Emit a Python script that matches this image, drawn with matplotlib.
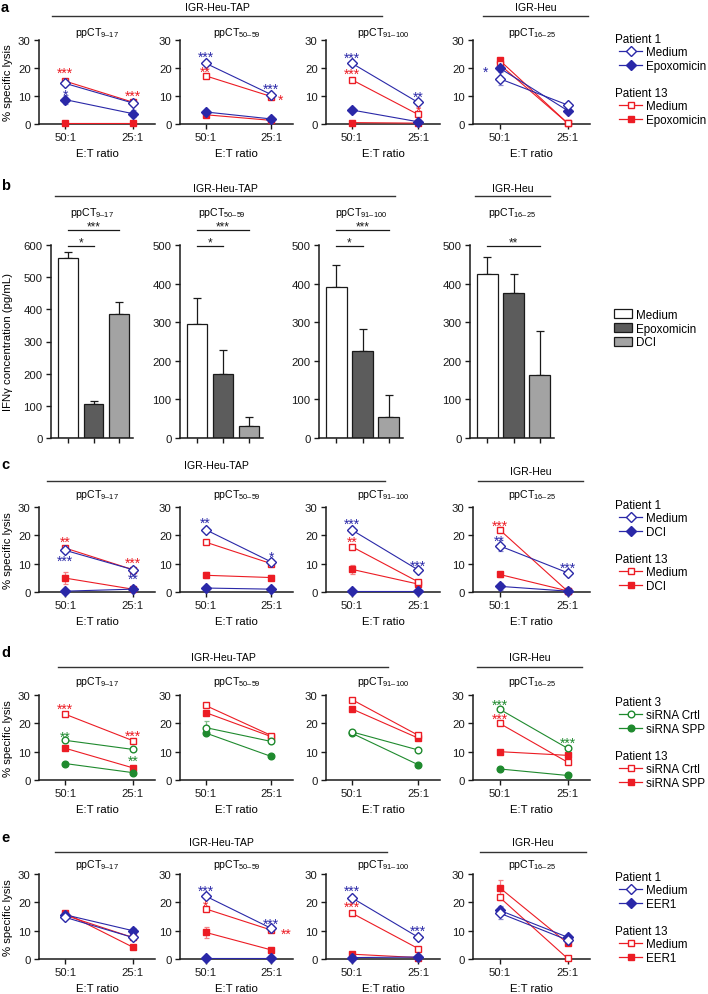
import matplotlib
matplotlib.use("Agg")
import matplotlib.pyplot as plt
from matplotlib.lines import Line2D
from matplotlib.patches import Patch
from matplotlib.transforms import offset_copy
import numpy as np

plt.rcParams['font.family'] = ['Liberation Sans', 'DejaVu Sans']
plt.rcParams['mathtext.fontset'] = 'custom'
plt.rcParams['mathtext.rm'] = 'Liberation Sans'
plt.rcParams['mathtext.it'] = 'Liberation Sans:italic'
plt.rcParams['mathtext.bf'] = 'Liberation Sans:bold'

BLUE = '#2a28a8'
RED = '#ec1c24'
GREEN = '#1f8a2e'
FS = 7.6      # titles
FT = 8.2      # ticks / axis labels
FL = 8.4      # legends

# ---- data -------------------------------------------------------------
ratios = ['50:1', '25:1']
peptides = ['9\u201317', '50\u201359', '91\u2013100', '16\u201325']
cell_lines = ['IGR-Heu-TAP', 'IGR-Heu']

# panel a: Patient 1 (blue) / Patient 13 (red), Medium vs Epoxomicin
a_p1_medium = [[14.5, 7.5], [21.7, 10.5], [21.7, 7.7], [16.2, 6.8]]
a_p1_drug = [[8.7, 3.7], [4.3, 1.8], [5.0, 0.8], [20.0, 4.8]]
a_p13_medium = [[15.3, 7.8], [17.2, 9.8], [15.8, 3.4], [21.3, 0.3]]
a_p13_drug = [[0.3, 0.3], [3.3, 1.3], [0.5, 0.3], [22.8, 0.3]]
a_p1_medium_err = [[0.6, 0.5], [0.6, 0.5], [0.5, 0.6], [2.2, 0.6]]
a_p1_drug_err = [[1.5, 1.3], [0.5, 0.4], [0.6, 0.3], [1.0, 0.5]]
a_p13_medium_err = [[0.6, 0.5], [0.8, 0.5], [0.8, 0.8], [0.8, 0.2]]
a_p13_drug_err = [[0.2, 0.2], [0.4, 0.3], [0.3, 0.2], [0.8, 0.2]]
a_stars = [(0, 0, 19.5, '***', RED), (0, 0, 11.6, '*', BLUE), (0, 1, 11.3, '***', RED),
           (1, 0, 25.3, '***', BLUE), (1, 0, 19.8, '**', RED), (1, 1, 13.8, '***', BLUE),
           (1, 1.14, 9.8, '*', RED),
           (2, 0, 24.8, '***', BLUE), (2, 0, 19.2, '***', RED), (2, 1, 10.8, '**', BLUE),
           (2, 1, 6.0, '*', RED),
           (3, -0.2, 20.0, '*', BLUE)]

# panel b: IFNg release
b_medium = [560, 296, 390, 425]
b_epox = [107, 167, 225, 375]
b_dci = [385, 30, 55, 162]
b_medium_err = [18, 67, 57, 45]
b_epox_err = [8, 62, 58, 50]
b_dci_err = [37, 25, 57, 115]
b_ymax = [600, 500, 500, 500]
b_sig = [[(0, 2, '***', 'high'), (0, 1, '*', 'low')],
         [(0, 2, '***', 'high'), (0, 1, '*', 'low')],
         [(0, 2, '***', 'high'), (0, 1, '*', 'low')],
         [(0, 2, '**', 'low')]]

# panel c: Medium vs DCI
c_p1_medium = [[14.7, 7.9], [22.0, 10.6], [21.9, 7.8], [16.3, 6.8]]
c_p1_drug = [[0.3, 1.0], [1.4, 1.0], [0.2, 0.2], [2.0, 0.3]]
c_p13_medium = [[15.5, 7.9], [17.6, 10.0], [16.0, 3.6], [22.0, 0.3]]
c_p13_drug = [[4.9, 1.0], [5.9, 5.1], [8.0, 2.8], [6.2, 0.4]]
c_p1_medium_err = [[0.6, 0.5], [0.6, 0.6], [0.5, 0.4], [2.0, 0.5]]
c_p1_drug_err = [[0.2, 0.3], [0.3, 0.2], [0.2, 0.2], [1.3, 0.2]]
c_p13_medium_err = [[0.8, 0.5], [0.8, 0.5], [0.6, 0.5], [0.8, 0.3]]
c_p13_drug_err = [[2.2, 0.3], [1.0, 0.8], [1.5, 0.4], [0.8, 0.3]]
c_stars = [(0, 0, 18.8, '**', RED), (0, 0, 12.3, '***', BLUE), (0, 1, 11.5, '***', RED),
           (0, 1, 5.8, '**', BLUE),
           (1, 0, 25.5, '**', BLUE), (1, 1, 13.8, '*', BLUE),
           (2, 0, 25.2, '***', BLUE), (2, 0, 19.0, '**', RED), (2, 1, 10.6, '***', BLUE),
           (3, 0, 24.5, '***', RED), (3, 0, 19.4, '**', BLUE), (3, 1, 9.9, '***', BLUE)]

# panel d: siRNA Crtl vs siRNA SPP, Patient 3 (green) / Patient 13 (red)
d_p3_crtl = [[14.0, 10.8], [18.5, 13.6], [17.0, 10.6], [25.0, 11.2]]
d_p3_spp = [[5.8, 2.6], [16.6, 8.3], [16.5, 5.4], [3.9, 1.6]]
d_p13_crtl = [[23.2, 13.9], [26.3, 15.7], [28.4, 15.8], [20.0, 6.3]]
d_p13_spp = [[11.2, 4.3], [23.8, 15.3], [25.1, 14.8], [10.0, 8.7]]
d_p3_crtl_err = [[0.5, 0.6], [2.2, 0.5], [0.5, 0.5], [0.5, 0.5]]
d_p3_spp_err = [[0.4, 0.3], [0.5, 0.4], [0.5, 0.4], [0.4, 0.3]]
d_p13_crtl_err = [[0.5, 0.5], [0.5, 0.5], [0.5, 0.5], [0.5, 0.5]]
d_p13_spp_err = [[0.5, 0.4], [0.5, 0.5], [0.5, 0.5], [0.5, 0.5]]
d_stars = [(0, 0, 26.5, '***', RED), (0, 0, 16.6, '**', GREEN), (0, 1, 16.9, '***', RED),
           (0, 1, 8.0, '**', GREEN),
           (3, 0, 27.8, '***', GREEN), (3, 0, 22.7, '***', RED), (3, 1, 14.3, '***', GREEN)]

# panel e: Medium vs EER1
e_p1_medium = [[14.7, 7.6], [22.2, 10.8], [21.6, 7.7], [16.2, 6.7]]
e_p1_drug = [[15.6, 10.0], [0.5, 0.5], [0.5, 0.7], [17.2, 7.7]]
e_p13_medium = [[15.4, 7.6], [17.7, 10.2], [16.2, 3.7], [21.8, 0.2]]
e_p13_drug = [[16.2, 4.2], [9.4, 3.2], [1.7, 0.5], [25.2, 5.6]]
e_p1_medium_err = [[0.6, 0.6], [0.5, 0.6], [0.5, 0.5], [2.0, 0.5]]
e_p1_drug_err = [[0.4, 0.8], [0.2, 0.2], [0.2, 0.2], [1.5, 0.6]]
e_p13_medium_err = [[0.5, 0.5], [0.8, 0.5], [0.6, 0.5], [0.8, 0.2]]
e_p13_drug_err = [[0.5, 0.3], [2.0, 0.4], [0.3, 0.2], [2.6, 0.8]]
e_stars = [(1, 0, 25.3, '***', BLUE), (1, 0, 20.0, '*', RED), (1, 1, 13.5, '***', BLUE),
           (1, 1.22, 10.3, '**', RED),
           (2, 0, 25.3, '***', BLUE), (2, 0, 19.6, '***', RED), (2, 1, 11.2, '***', BLUE)]

# ---- layout (pixels) --------------------------------------------------
W, H = 708, 995
fig = plt.figure(figsize=(W / 100, H / 100), dpi=100)

line_cols = [(39, 155), (180, 293), (326, 440), (473, 590)]
bar_cols = [(51, 133), (180, 263), (319, 403), (470, 554)]


def fx(x):
    return x / W


def fy(y):
    return 1 - y / H


def add_ax(x0, x1, ytop, ybot):
    return fig.add_axes([fx(x0), fy(ybot), (x1 - x0) / W, (ybot - ytop) / H])


def style_ax(ax):
    for s in ['top', 'right']:
        ax.spines[s].set_visible(False)
    for s in ['left', 'bottom']:
        ax.spines[s].set_linewidth(1.1)
        ax.spines[s].set_color('#1a1a1a')
    ax.tick_params(direction='out', length=3.5, width=1.0, labelsize=FT, pad=2.5, colors='#1a1a1a')
    ax.patch.set_visible(False)


def row_header(letter, ly, gy_tap, gy_heu, gline, tap, heu, title_y, cols):
    fig.text(fx(1), fy(ly), letter, fontsize=10.5, fontweight='bold', ha='left', va='center')
    fig.text(fx((tap[0] + tap[1]) / 2), fy(gy_tap), cell_lines[0], fontsize=FS, ha='center', va='center')
    fig.text(fx((heu[0] + heu[1]) / 2), fy(gy_heu), cell_lines[1], fontsize=FS, ha='center', va='center')
    fig.add_artist(Line2D([fx(tap[0]), fx(tap[1])], [fy(gline)] * 2, color='#333333', lw=1.0))
    fig.add_artist(Line2D([fx(heu[0]), fx(heu[1])], [fy(gline)] * 2, color='#333333', lw=1.0))
    for (x0, x1), p in zip(cols, peptides):
        fig.text(fx((x0 + x1) / 2), fy(title_y), 'ppCT$_{%s}$' % p, fontsize=FS,
                 ha='center', va='center')


def legend_group(x, y, title, handles, labels):
    fig.text(fx(x), fy(y), title, fontsize=FL, ha='left', va='center')
    fig.legend(handles, labels, loc='upper left', bbox_to_anchor=(fx(x + 4), fy(y + 7)),
               frameon=False, fontsize=FL, handlelength=2.0, handletextpad=0.35,
               labelspacing=0.18, borderaxespad=0, borderpad=0)


def lighten(c, a=0.45):
    rgb = np.array(matplotlib.colors.to_rgb(c))
    return tuple(rgb + (1 - rgb) * a)


def line_row(ytop, ybot, series, stars):
    axes = []
    x = [0, 1]
    for k, (x0, x1) in enumerate(line_cols):
        ax = add_ax(x0, x1, ytop, ybot)
        style_ax(ax)
        for vals, err, color, marker, filled, ms in series:
            ax.errorbar(x, vals[k], yerr=err[k], fmt='none', ecolor=lighten(color),
                        elinewidth=0.9, capsize=1.8, capthick=0.9, clip_on=False, zorder=2)
            ax.plot(x, vals[k], color=color, lw=0.8, marker=marker, ms=ms,
                    mfc=color if filled else 'white', mec=color, mew=1.0,
                    clip_on=False, zorder=3)
        # asterisks sit high in the em box, shift baseline down so glyph centres on y
        star_tr = offset_copy(ax.transData, fig=fig, y=-7.5, units='dots')
        for (p, sx, sy, txt, col) in stars:
            if p == k:
                ax.text(sx, sy, txt, color=col, fontsize=10, ha='center', va='baseline',
                        transform=star_tr, zorder=5)
        ax.set_xlim(-0.39, 1.33)
        ax.set_ylim(0, 30)
        ax.set_yticks([0, 10, 20, 30])
        ax.set_xticks(x, ratios)
        ax.set_xlabel('E:T ratio', fontsize=FT, labelpad=4)
        axes.append(ax)
    fig.text(fx(8), fy((ytop + ybot) / 2), '% specific lysis', fontsize=FT, rotation=90,
             ha='center', va='center')
    return axes


def std_series(p1_med, p1_med_e, p1_drug, p1_drug_e, p13_med, p13_med_e, p13_drug, p13_drug_e):
    return [(p13_drug, p13_drug_e, RED, 's', True, 5.0),
            (p13_med, p13_med_e, RED, 's', False, 5.0),
            (p1_drug, p1_drug_e, BLUE, 'D', True, 4.6),
            (p1_med, p1_med_e, BLUE, 'D', False, 4.6)]


def std_legend(y, c1, m1, c2, m2, head1, labels):
    h1 = [Line2D([], [], color=c1, marker=m1, ms=4.8, mfc='white', mec=c1, lw=0.9),
          Line2D([], [], color=c1, marker=m1, ms=4.8, mfc=c1, mec=c1, lw=0.9)]
    h2 = [Line2D([], [], color=c2, marker=m2, ms=5.0, mfc='white', mec=c2, lw=0.9),
          Line2D([], [], color=c2, marker=m2, ms=5.0, mfc=c2, mec=c2, lw=0.9)]
    legend_group(615, y, head1, h1, labels)
    legend_group(615, y + 54, 'Patient 13', h2, labels)


# ---- row a ------------------------------------------------------------
row_header('a', 8, 8, 8, 17, (52, 382), (483, 588), 33, line_cols)
line_row(41, 125, std_series(a_p1_medium, a_p1_medium_err, a_p1_drug, a_p1_drug_err,
                             a_p13_medium, a_p13_medium_err, a_p13_drug, a_p13_drug_err), a_stars)
std_legend(40, BLUE, 'D', RED, 's', 'Patient 1', ['Medium', 'Epoxomicin'])

# ---- row b ------------------------------------------------------------
row_header('b', 186, 189, 189, 197, (55, 395), (475, 550), 213, bar_cols)
bar_colors = ['white', '#5c5c5c', '#a3a3a3']
for k, (x0, x1) in enumerate(bar_cols):
    ax = add_ax(x0, x1, 246, 439)
    style_ax(ax)
    vals = [b_medium[k], b_epox[k], b_dci[k]]
    errs = [b_medium_err[k], b_epox_err[k], b_dci_err[k]]
    xb = np.arange(3)
    ax.bar(xb, vals, width=0.78, color=bar_colors, edgecolor='#1a1a1a', linewidth=0.9, zorder=2)
    ax.errorbar(xb, vals, yerr=[[0, 0, 0], errs], fmt='none', ecolor='#1a1a1a',
                elinewidth=0.9, capsize=3, capthick=0.9, zorder=1)
    ax.set_xlim(-0.67, 2.55)
    ax.set_ylim(0, b_ymax[k])
    ax.set_yticks(np.arange(0, b_ymax[k] + 1, 100))
    ax.set_xticks(xb, ['', '', ''])
    tr = ax.get_xaxis_transform()
    for i, j, txt, lvl in b_sig[k]:
        yl = 1.078 if lvl == 'high' else 0.995
        ax.plot([i, j], [yl, yl], color='#1a1a1a', lw=0.9, transform=tr, clip_on=False)
        ax.text((i + j) / 2, yl - 0.012, txt, transform=tr, ha='center', va='bottom',
                fontsize=8.5, color='#1a1a1a')
fig.text(fx(8), fy(342), 'IFN\u03b3 concentration (pg/mL)', fontsize=FT, rotation=90,
         ha='center', va='center')
bar_handles = [Patch(facecolor=c, edgecolor='#1a1a1a', linewidth=0.9) for c in bar_colors]
fig.legend(bar_handles, ['Medium', 'Epoxomicin', 'DCI'], loc='upper left',
           bbox_to_anchor=(fx(614), fy(310)), frameon=False, fontsize=FL, handlelength=1.5,
           handleheight=0.8, handletextpad=0.4, labelspacing=0.15, borderaxespad=0, borderpad=0)

# ---- row c ------------------------------------------------------------
row_header('c', 465, 466, 472, 482, (47, 385), (478, 583), 495, line_cols)
line_row(508, 593, std_series(c_p1_medium, c_p1_medium_err, c_p1_drug, c_p1_drug_err,
                              c_p13_medium, c_p13_medium_err, c_p13_drug, c_p13_drug_err), c_stars)
std_legend(506, BLUE, 'D', RED, 's', 'Patient 1', ['Medium', 'DCI'])

# ---- row d ------------------------------------------------------------
row_header('d', 653, 658, 658, 668, (58, 388), (477, 582), 682, line_cols)
d_series = [(d_p13_spp, d_p13_spp_err, RED, 's', True, 5.0),
            (d_p13_crtl, d_p13_crtl_err, RED, 's', False, 5.0),
            (d_p3_spp, d_p3_spp_err, GREEN, 'o', True, 4.8),
            (d_p3_crtl, d_p3_crtl_err, GREEN, 'o', False, 4.8)]
line_row(696, 781, d_series, d_stars)
std_legend(703, GREEN, 'o', RED, 's', 'Patient 3', ['siRNA Crtl', 'siRNA SPP'])

# ---- row e ------------------------------------------------------------
row_header('e', 838, 843, 843, 853, (55, 387), (480, 586), 865, line_cols)
line_row(875, 960, std_series(e_p1_medium, e_p1_medium_err, e_p1_drug, e_p1_drug_err,
                              e_p13_medium, e_p13_medium_err, e_p13_drug, e_p13_drug_err), e_stars)
std_legend(878, BLUE, 'D', RED, 's', 'Patient 1', ['Medium', 'EER1'])

fig.savefig('out.png', dpi=100)
